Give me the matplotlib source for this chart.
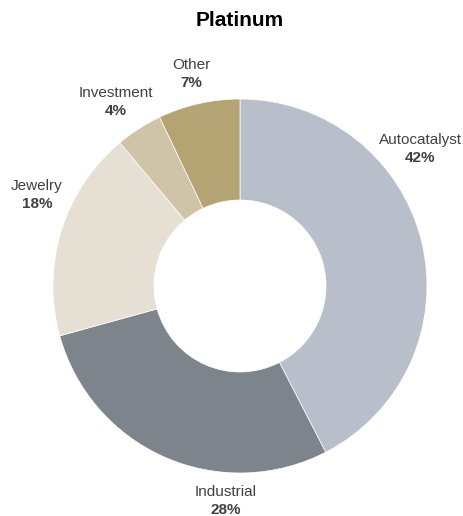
import matplotlib
matplotlib.use("Agg")
import matplotlib.pyplot as plt

# ------------------------------------------------------------------
# Data
# ------------------------------------------------------------------
categories = ["Autocatalyst", "Industrial", "Jewelry", "Investment", "Other"]
shares = [42, 28, 18, 4, 7]
colors = ["#b8bfca", "#7d848b", "#e6e0d4", "#cfc4a7", "#b4a473"]

# label anchor points (pixels from top-left of the figure)
label_xy = [(420, 149), (226, 501), (37, 195), (116, 102), (191, 74)]

W, H = 464, 516
fig = plt.figure(figsize=(W / 100, H / 100), dpi=100)
ax = fig.add_axes([0, 0, 1, 1])

cx, cy, r_out, r_in = 240, H - 286, 187, 86
ax.pie(shares, colors=colors, startangle=90, counterclock=False,
       center=(cx, cy), radius=r_out, frame=True,
       wedgeprops=dict(width=r_out - r_in, edgecolor="white", linewidth=0.5))
ax.set_xlim(0, W)
ax.set_ylim(0, H)
ax.set_aspect("equal")
ax.axis("off")

font = "Liberation Sans"
for name, val, (x, y) in zip(categories, shares, label_xy):
    ax.text(x, H - y + 9, name, ha="center", va="center",
            fontsize=11, color="#404040", family=font)
    ax.text(x, H - y - 9, f"{val}%", ha="center", va="center",
            fontsize=11, fontweight="bold", color="#404040", family=font)

fig.text(240 / W, 1 - 20 / H, "Platinum", ha="center", va="center",
         fontsize=15, fontweight="bold", color="black", family=font)

fig.savefig("out.png", dpi=100)
